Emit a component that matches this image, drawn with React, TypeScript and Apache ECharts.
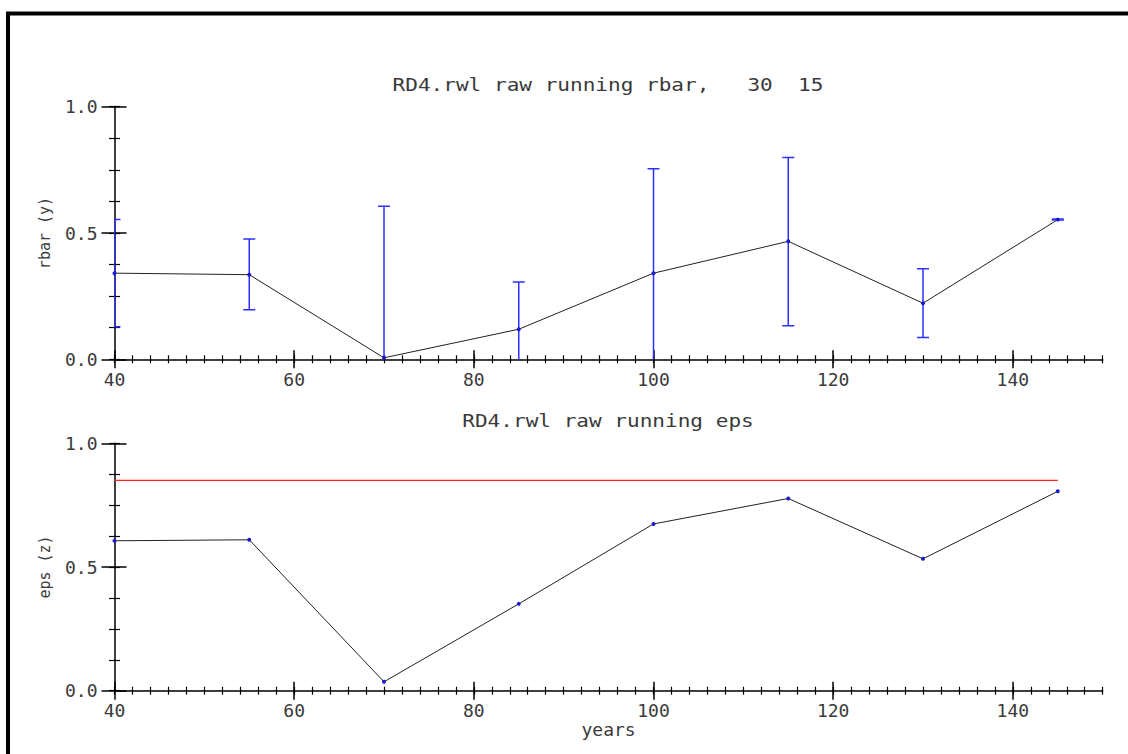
import React, { useEffect, useRef } from "react";
import * as echarts from "echarts";

// ---- data ----
const years = [40, 55, 70, 85, 100, 115, 130, 145];
const rbar = [0.341, 0.335, 0.006, 0.119, 0.341, 0.467, 0.222, 0.553];
const rbarLow = [0.129, 0.196, -0.594, -0.068, -0.072, 0.133, 0.086, 0.551];
const rbarHigh = [0.553, 0.476, 0.606, 0.306, 0.754, 0.799, 0.358, 0.555];
const eps = [0.606, 0.61, 0.036, 0.351, 0.674, 0.777, 0.533, 0.806];
const epsThreshold = 0.85;
const thresholdYears = [40, 145];

const xMajorTicks = [40, 60, 80, 100, 120, 140];
const yMajorTicks = [0, 0.5, 1.0];
const xRange = [40, 150];
const yRange = [0, 1];
const xMinorStep = 2;
const yMinorStep = 0.125;

const topTitle = "RD4.rwl raw running rbar,   30  15";
const bottomTitle = "RD4.rwl raw running eps";
const topYName = "rbar (y)";
const bottomYName = "eps (z)";
const xName = "years";

const FONT = '"DejaVu Sans Mono", monospace';
const TEXT = "#3a3a3a";
const BLUE = "#2f2fff";
const DOT = "#1a1acc";
const LINE = "#222";
const RED = "#ff2020";

function steps(a: number, b: number, s: number): number[] {
  const out: number[] = [];
  const n = Math.round((b - a) / s);
  for (let i = 0; i <= n; i++) out.push(+(a + i * s).toFixed(6));
  return out;
}

export default function App() {
  const ref = useRef<HTMLDivElement>(null);
  useEffect(() => {
    if (!ref.current) return;
    const chart = echarts.init(ref.current, null, { renderer: "svg" });
    const xMinor = steps(xRange[0], xRange[1], xMinorStep);
    const yMinor = steps(yRange[0], yRange[1], yMinorStep);

    const grids = [
      { left: 114.5, top: 106.7, width: 988.2, height: 252.6 },
      { left: 114.5, top: 443.3, width: 988.2, height: 247.4 },
    ];

    const axisLineStyle = { color: "#000", width: 1.5 };
    const labelStyle = { fontFamily: FONT, fontSize: 18, color: TEXT };

    const xAxes: any[] = [];
    const yAxes: any[] = [];
    grids.forEach((_, g) => {
      xAxes.push({
        type: "value", gridIndex: g, position: "bottom", min: xRange[0], max: xRange[1],
        axisLine: { show: true, lineStyle: axisLineStyle },
        axisTick: { show: false },
        splitLine: { show: false },
        axisLabel: { customValues: xMajorTicks, margin: 11, ...labelStyle, formatter: (v: number) => String(v) },
        name: g === 1 ? xName : "",
        nameLocation: "middle", nameGap: 27,
        nameTextStyle: { fontFamily: FONT, fontSize: 18, color: TEXT },
      });
      xAxes.push({
        type: "value", gridIndex: g, position: "bottom", offset: -9, min: xRange[0], max: xRange[1],
        axisLine: { show: false }, splitLine: { show: false }, axisLabel: { show: false },
        axisTick: { show: true, customValues: xMajorTicks, length: 18, lineStyle: axisLineStyle },
      });
      xAxes.push({
        type: "value", gridIndex: g, position: "bottom", offset: -4, min: xRange[0], max: xRange[1],
        axisLine: { show: false }, splitLine: { show: false }, axisLabel: { show: false },
        axisTick: { show: true, customValues: xMinor, length: 8, lineStyle: { color: "#000", width: 1.2 } },
      });
      yAxes.push({
        type: "value", gridIndex: g, position: "left", min: yRange[0], max: yRange[1],
        axisLine: { show: true, lineStyle: axisLineStyle },
        axisTick: { show: false },
        splitLine: { show: false },
        axisLabel: { customValues: yMajorTicks, margin: 17, ...labelStyle, formatter: (v: number) => v.toFixed(1) },
        name: g === 0 ? topYName : bottomYName,
        nameLocation: "middle", nameGap: 62,
        nameTextStyle: { fontFamily: FONT, fontSize: 15, color: TEXT },
      });
      yAxes.push({
        type: "value", gridIndex: g, position: "left", offset: -12, min: yRange[0], max: yRange[1],
        axisLine: { show: false }, splitLine: { show: false }, axisLabel: { show: false },
        axisTick: { show: true, customValues: yMajorTicks, length: 25, lineStyle: axisLineStyle },
      });
      yAxes.push({
        type: "value", gridIndex: g, position: "left", offset: -5.5, min: yRange[0], max: yRange[1],
        axisLine: { show: false }, splitLine: { show: false }, axisLabel: { show: false },
        axisTick: { show: true, customValues: yMinor, length: 11, lineStyle: { color: "#000", width: 1.2 } },
      });
    });

    const errData = years.map((y, i) => [y, rbarLow[i], rbarHigh[i]]);

    chart.setOption({
      animation: false,
      backgroundColor: "#fff",
      grid: grids,
      xAxis: xAxes,
      yAxis: yAxes,
      graphic: [
        {
          type: "rect", z: 100,
          shape: { x: 8, y: 13.5, width: 1300, height: 1000 },
          style: { fill: "none", stroke: "#000", lineWidth: 4 },
        },
        {
          type: "text", x: 608, y: 85, scaleX: 1.17,
          style: { text: topTitle, fontFamily: FONT, fontSize: 18, fill: TEXT, align: "center", verticalAlign: "middle" },
        },
        {
          type: "text", x: 608, y: 421.5, scaleX: 1.17,
          style: { text: bottomTitle, fontFamily: FONT, fontSize: 18, fill: TEXT, align: "center", verticalAlign: "middle" },
        },
      ],
      series: [
        {
          type: "custom", xAxisIndex: 0, yAxisIndex: 0, clip: true, z: 3,
          data: errData,
          encode: { x: 0, y: [1, 2] },
          renderItem: (params: any, api: any) => {
            const x = api.value(0);
            const lo = api.coord([x, api.value(1)]);
            const hi = api.coord([x, api.value(2)]);
            const w = 6;
            const st = { stroke: BLUE, lineWidth: 1.5 };
            return {
              type: "group",
              children: [
                { type: "line", shape: { x1: lo[0], y1: lo[1], x2: hi[0], y2: hi[1] }, style: st },
                { type: "line", shape: { x1: hi[0] - w, y1: hi[1], x2: hi[0] + w, y2: hi[1] }, style: st },
                { type: "line", shape: { x1: lo[0] - w, y1: lo[1], x2: lo[0] + w, y2: lo[1] }, style: st },
              ],
            };
          },
        },
        {
          type: "line", xAxisIndex: 0, yAxisIndex: 0, z: 4,
          data: years.map((y, i) => [y, rbar[i]]),
          symbol: "circle", symbolSize: 4, showSymbol: true,
          lineStyle: { color: LINE, width: 1 },
          itemStyle: { color: DOT },
        },
        {
          type: "line", xAxisIndex: 3, yAxisIndex: 3, z: 3,
          data: thresholdYears.map((y) => [y, epsThreshold]),
          symbol: "none",
          lineStyle: { color: RED, width: 1.2 },
        },
        {
          type: "line", xAxisIndex: 3, yAxisIndex: 3, z: 4,
          data: years.map((y, i) => [y, eps[i]]),
          symbol: "circle", symbolSize: 4, showSymbol: true,
          lineStyle: { color: LINE, width: 1 },
          itemStyle: { color: DOT },
        },
      ],
    });
    return () => chart.dispose();
  }, []);
  return (
    <div
      ref={ref}
      style={{ position: "absolute", left: 0, top: 0, width: 1128, height: 754, background: "#fff" }}
    />
  );
}
